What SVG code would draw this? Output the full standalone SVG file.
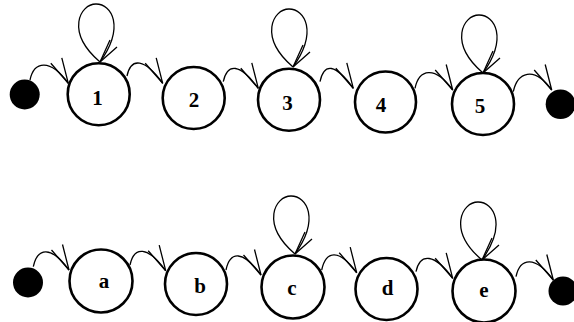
<svg xmlns="http://www.w3.org/2000/svg" width="574" height="322" viewBox="0 0 574 322">
<style>
.node circle{fill:#fff;stroke:#000;stroke-width:2.6}
.dot circle{fill:#000;stroke:none}
.lbl{font-family:"Liberation Serif","Times New Roman",serif;font-weight:bold;font-size:21px;text-anchor:middle;fill:#000}
.edge{fill:none;stroke:#000;stroke-width:1.3}
.e{marker-end:url(#arr)}
.l{marker-end:url(#larr)}
</style>
<defs>
<marker id="arr" markerUnits="userSpaceOnUse" orient="0" viewBox="-30 -30 35 35" refX="0" refY="0" markerWidth="35" markerHeight="35">
<path d="M-6.5,-25.5 L0,0 L-17.5,-20" fill="none" stroke="#000" stroke-width="1.3"/>
</marker>
<marker id="larr" markerUnits="userSpaceOnUse" orient="0" viewBox="-5 -30 30 35" refX="0" refY="0" markerWidth="30" markerHeight="35">
<path d="M10,-22 L0,0 L17,-15" fill="none" stroke="#000" stroke-width="1.3"/>
</marker>
</defs>
<g id="connectors" class="edge">
<path class="e" d="M30,80 C34,61 50.3,58.3 68.3,83.3"/>
<path class="e" d="M127,76 C131,57 144.7,58.3 162.7,83.3"/>
<path class="e" d="M223.3,81.7 C227.3,62.7 240.3,63.3 258.3,88.3"/>
<path class="e" d="M320,81.7 C324,62.7 335.3,63.3 353.3,88.3"/>
<path class="e" d="M415,88.3 C419,69.3 434.7,65 452.7,90"/>
<path class="e" d="M513.3,91.7 C517.3,72.7 533.7,65 551.7,90"/>
<path class="e" d="M33.3,266.7 C37.3,247.7 51,245 69,270"/>
<path class="e" d="M130,265 C134,246 147.7,245.7 165.7,270.7"/>
<path class="e" d="M226,270 C230,251 243,250 261,275"/>
<path class="e" d="M321.7,270 C325.7,251 338.7,247.7 356.7,272.7"/>
<path class="e" d="M416,271.7 C420,252.7 434.7,253.3 452.7,278.3"/>
<path class="e" d="M516,276.7 C520,257.7 535.3,255 553.3,280"/>
<path class="l" d="M100,62 c-35,-30 -20,-58 -4,-58 c16,0 29,23 4,58"/>
<path class="l" d="M293,67 c-35,-30 -20,-58 -4,-58 c16,0 29,23 4,58"/>
<path class="l" d="M483,73 c-35,-30 -20,-58 -4,-58 c16,0 29,23 4,58"/>
<path class="l" d="M295,254 c-35,-30 -20,-58 -4,-58 c16,0 29,23 4,58"/>
<path class="l" d="M482,260 c-35,-30 -20,-58 -4,-58 c16,0 29,23 4,58"/>
</g>
<g id="start1" class="dot"><circle cx="24.7" cy="94.5" r="15"/></g>
<g id="n1" class="node"><circle cx="98.7" cy="94.2" r="31"/><text class="lbl" x="97.5" y="105">1</text></g>
<g id="n2" class="node"><circle cx="193.7" cy="98" r="31"/><text class="lbl" x="194" y="107">2</text></g>
<g id="n3" class="node"><circle cx="289" cy="99.7" r="31"/><text class="lbl" x="287.5" y="110">3</text></g>
<g id="n4" class="node"><circle cx="385.5" cy="102" r="30.5"/><text class="lbl" x="381" y="112">4</text></g>
<g id="n5" class="node"><circle cx="483" cy="104" r="31"/><text class="lbl" x="480" y="112.5">5</text></g>
<g id="end1" class="dot"><circle cx="560.5" cy="104.3" r="14.8"/></g>
<g id="start2" class="dot"><circle cx="28" cy="282.5" r="15"/></g>
<g id="na" class="node"><circle cx="101" cy="281" r="31.5"/><text class="lbl" x="104" y="288">a</text></g>
<g id="nb" class="node"><circle cx="196" cy="284" r="31"/><text class="lbl" x="200" y="293">b</text></g>
<g id="nc" class="node"><circle cx="293" cy="287" r="31.5"/><text class="lbl" x="292" y="295">c</text></g>
<g id="nd" class="node"><circle cx="386.5" cy="289" r="31"/><text class="lbl" x="387.5" y="294.5">d</text></g>
<g id="ne" class="node"><circle cx="484" cy="291" r="31.5"/><text class="lbl" x="484" y="297">e</text></g>
<g id="end2" class="dot"><circle cx="563" cy="291" r="14.5"/></g>
</svg>
